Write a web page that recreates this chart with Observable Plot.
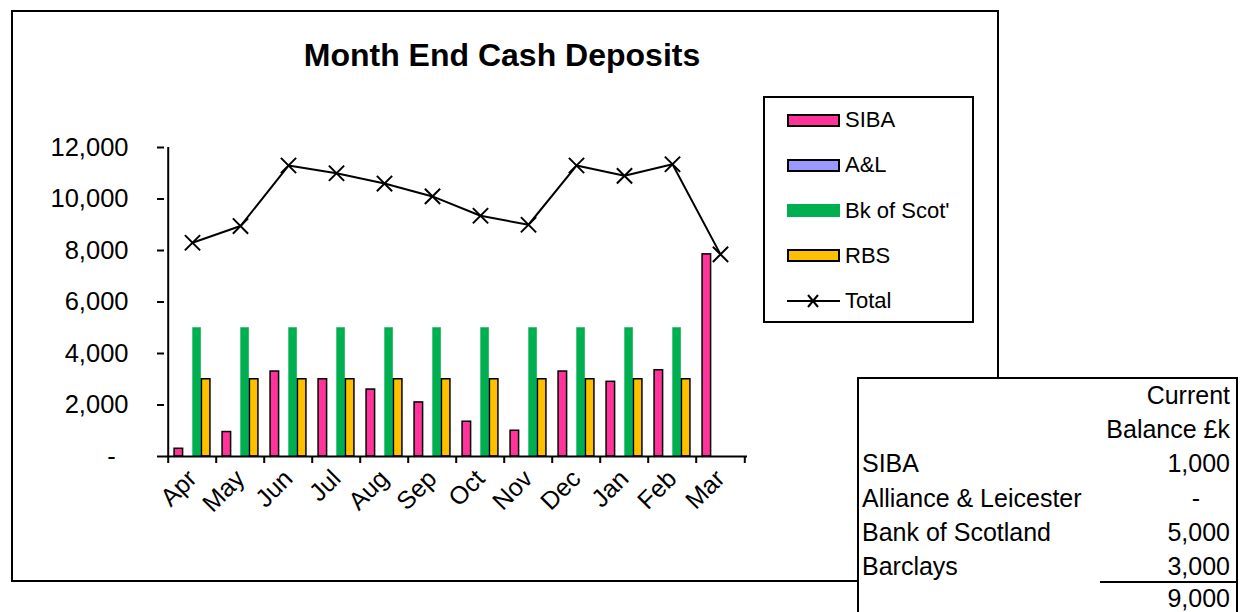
<!DOCTYPE html>
<html>
<head>
<meta charset="utf-8">
<script src="https://cdn.jsdelivr.net/npm/d3@7"></script>
<script src="https://cdn.jsdelivr.net/npm/@observablehq/plot@0.6"></script>
<style>
  html, body { margin: 0; padding: 0; background: #fff; }
  body { font-family: "Liberation Sans", Arial, sans-serif; color: #000; }
  #wrap { position: relative; width: 1240px; height: 612px; overflow: hidden; background: #fff; }
  .abs { position: absolute; }
  #border { left: 11px; top: 10px; width: 988px; height: 572px; border: 2px solid #000; box-sizing: border-box; }
  #plot { left: 0; top: 0; }
  #title { left: 0; width: 1004px; top: 39px; text-align: center; font-weight: bold; font-size: 32px; line-height: 32px; white-space: nowrap; }
  #legendBox { left: 763px; top: 96px; width: 211px; height: 227px; border: 2px solid #000; box-sizing: border-box; background: #fff; }
  .entry { display: flex; align-items: center; height: 30px; left: 787px; font-size: 22px; white-space: nowrap; }
  .sw { display: inline-block; width: 53px; height: 13px; box-sizing: border-box; margin-right: 5px; }
  #table { left: 857px; top: 377px; width: 381px; height: 250px; border-left: 2px solid #000; border-top: 2px solid #000; border-right: 2px solid #000; background: #fff; box-sizing: border-box; }
  .trow { left: 862px; width: 368px; height: 28px; line-height: 28px; font-size: 25px; white-space: nowrap; }
  .trow .l { position: absolute; left: 0; }
  .trow .r { position: absolute; right: 0; }
  #uline { left: 1100px; top: 581px; width: 138px; height: 2px; background: #000; }
</style>
</head>
<body>
<div id="wrap">
  <div id="border" class="abs"></div>
  <div id="plot" class="abs"></div>
  <div id="title" class="abs"></div>
  <div id="legendBox" class="abs"></div>
  <div id="table" class="abs"></div>
</div>
<script>
// ---- data ----
const months = ["Apr","May","Jun","Jul","Aug","Sep","Oct","Nov","Dec","Jan","Feb","Mar"];
const siba  = [300, 950, 3300, 3000, 2600, 2100, 1350, 1000, 3300, 2900, 3350, 7850];
const al    = [0, 0, 0, 0, 0, 0, 0, 0, 0, 0, 0, 0];
const bos   = [5000, 5000, 5000, 5000, 5000, 5000, 5000, 5000, 5000, 5000, 5000, 0];
const rbs   = [3000, 3000, 3000, 3000, 3000, 3000, 3000, 3000, 3000, 3000, 3000, 0];
const total = [8300, 8950, 11300, 11000, 10600, 10100, 9350, 9000, 11300, 10900, 11350, 7850];
const yTicks = [0, 2000, 4000, 6000, 8000, 10000, 12000];
const seriesNames = ["SIBA", "A&L", "Bk of Scot'", "RBS", "Total"];
const seriesColors = ["#FF3399", "#9999FF", "#00B050", "#FFC000"];
const chartTitle = "Month End Cash Deposits";
const tableHeader = ["Current", "Balance £k"];
const tableLabels = ["SIBA", "Alliance & Leicester", "Bank of Scotland", "Barclays"];
const tableValues = [1000, 0, 5000, 3000];
const tableTotal = 9000;

// ---- layout ----
const W = 1240, H = 612;
const mL = 164, mR = 493, mT = 147, mB = 156;
const bw = (W - mL - mR) / months.length;
const barW = bw * 0.1875;
const pad0 = (bw - 4 * barW) / 2;

const rows = months.map((m, i) => ({month: m, siba: siba[i], al: al[i], bos: bos[i], rbs: rbs[i], total: total[i]}));
const keys = ["siba", "al", "bos", "rbs"];

const fmt = d3.format(",");
const yFmt = d => d === 0 ? "-\u2002" : fmt(d);

const barMarks = keys.map((k, i) => Plot.barY(rows.filter(d => d[k] > 0), {
  x: "month", y: k,
  fill: seriesColors[i],
  stroke: i === 2 ? "none" : "#000",
  strokeWidth: 1.5,
  insetLeft: pad0 + i * barW,
  insetRight: bw - pad0 - (i + 1) * barW
}));

const chart = Plot.plot({
  width: W, height: H,
  marginLeft: mL, marginRight: mR, marginTop: mT, marginBottom: mB,
  x: {type: "band", domain: months, padding: 0, label: null},
  y: {domain: [0, 12000], label: null},
  style: {fontFamily: "'Liberation Sans', Arial, sans-serif", background: "transparent", color: "#000", overflow: "visible"},
  marks: [
    ...barMarks,
    Plot.ruleY([0], {stroke: "#000", strokeWidth: 2}),
    Plot.ruleX([months[0]], {dx: -bw / 2, y1: 0, y2: 12000, stroke: "#000", strokeWidth: 2}),
    Plot.axisY({ticks: yTicks, tickSize: 7, tickPadding: 29, tickFormat: yFmt, fontSize: 25.5, strokeWidth: 2, label: null}),
    Plot.axisX({ticks: months, tickSize: 7, tickFormat: () => "", dx: -bw / 2, strokeWidth: 2, label: null}),
    Plot.axisX({ticks: [months[months.length - 1]], tickSize: 7, tickFormat: () => "", dx: bw / 2, strokeWidth: 2, label: null}),
    Plot.axisX({tickSize: 0, tickRotate: -45, tickPadding: 18, dx: 0, fontSize: 25, label: null}),
    Plot.line(rows, {x: "month", y: "total", stroke: "#000", strokeWidth: 2}),
    Plot.dot(rows, {x: "month", y: "total", symbol: "times", r: 7, stroke: "#000", strokeWidth: 2})
  ]
});
document.getElementById("plot").appendChild(chart);

document.getElementById("title").textContent = chartTitle;

// ---- legend ----
const wrap = document.getElementById("wrap");
seriesNames.forEach((name, i) => {
  const cy = 120 + i * 45.3;
  const e = document.createElement("div");
  e.className = "abs entry";
  e.style.top = (cy - 15) + "px";
  if (i < 4) {
    const sw = document.createElement("span");
    sw.className = "sw";
    sw.style.background = seriesColors[i];
    if (i !== 2) sw.style.border = "2px solid #000";
    e.appendChild(sw);
  } else {
    const ns = "http://www.w3.org/2000/svg";
    const s = document.createElementNS(ns, "svg");
    s.setAttribute("width", 53); s.setAttribute("height", 16);
    s.style.marginRight = "5px";
    s.innerHTML = '<line x1="0" y1="8" x2="53" y2="8" stroke="#000" stroke-width="2"/>' +
      '<path d="M21,2L31,14M31,2L21,14" stroke="#000" stroke-width="2"/>';
    e.appendChild(s);
  }
  const t = document.createElement("span");
  t.textContent = name;
  e.appendChild(t);
  wrap.appendChild(e);
});

// ---- table ----
const tRows = [
  ["", tableHeader[0]],
  ["", tableHeader[1]],
  ...tableLabels.map((l, i) => [l, tableValues[i] === 0 ? "-" : fmt(tableValues[i])]),
  ["", fmt(tableTotal)]
];
tRows.forEach((r, i) => {
  const cy = 395 + i * 34.2 - (i === 6 ? 2 : 0);
  const d = document.createElement("div");
  d.className = "abs trow";
  d.style.top = (cy - 14) + "px";
  const l = document.createElement("span"); l.className = "l"; l.textContent = r[0];
  const v = document.createElement("span"); v.className = "r"; v.textContent = r[1];
  if (r[1] === "-") v.style.right = "30px";
  d.appendChild(l); d.appendChild(v);
  wrap.appendChild(d);
});
const u = document.createElement("div");
u.id = "uline"; u.className = "abs";
wrap.appendChild(u);
</script>
</body>
</html>
